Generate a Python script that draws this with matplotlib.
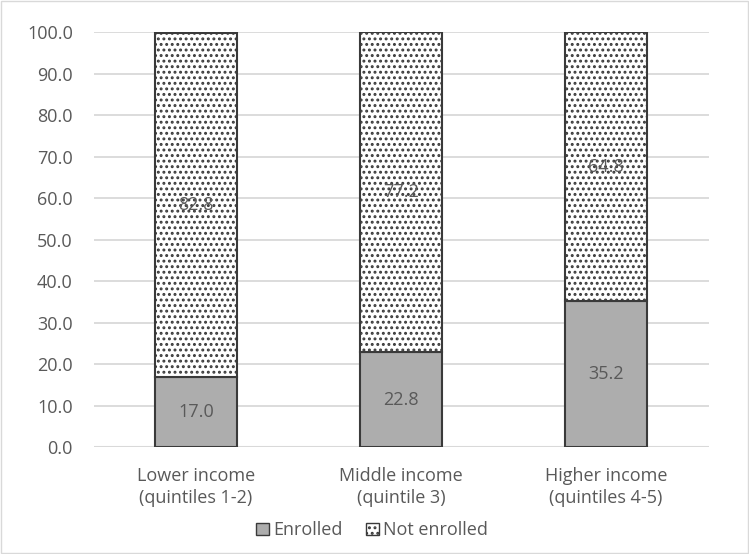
import matplotlib
matplotlib.use("Agg")
import matplotlib.pyplot as plt
from matplotlib.patches import Patch

plt.rcParams['font.family'] = ['Open Sans', 'DejaVu Sans']
plt.rcParams['hatch.linewidth'] = 1.35
plt.rcParams['hatch.color'] = '#000000'

categories = ["Lower income\n(quintiles 1-2)", "Middle income\n(quintile 3)", "Higher income\n(quintiles 4-5)"]
enrolled = [17.0, 22.8, 35.2]
not_enrolled = [82.8, 77.2, 64.8]
yticks = [0, 10, 20, 30, 40, 50, 60, 70, 80, 90, 100]

text_color = '#595959'
grid_color = '#D9D9D9'
edge_color = '#3a3a3a'
fill_enrolled = '#ADADAD'

fig = plt.figure(figsize=(7.49, 5.54), dpi=100)
fig.patch.set_facecolor('white')
fig.patches.append(plt.Rectangle((0.002, 0.002), 0.996, 0.996, transform=fig.transFigure,
                                 fill=False, edgecolor='#D9D9D9', linewidth=1.0))
ax = fig.add_axes([0.125, 0.193, 0.821, 0.749])

x = list(range(len(categories)))
width = 0.40
ax.bar(x, enrolled, width, color=fill_enrolled, edgecolor=edge_color, linewidth=1.5, zorder=3)
ax.bar(x, not_enrolled, width, bottom=enrolled, color='white', edgecolor=edge_color,
       linewidth=1.5, hatch='...', zorder=3)

for xi, e, n in zip(x, enrolled, not_enrolled):
    ax.text(xi, e / 2, f"{e:.1f}", ha='center', va='center', fontsize=13, color=text_color, zorder=4)
    ax.text(xi, e + n / 2, f"{n:.1f}", ha='center', va='center', fontsize=13, color=text_color, zorder=4)

ax.set_xlim(-0.5, 2.5)
ax.set_ylim(0, 100)
ax.set_yticks(yticks)
ax.set_yticklabels([f"{v:.1f}" for v in yticks])
ax.set_xticks(x)
ax.set_xticklabels(categories, linespacing=1.35)
ax.tick_params(axis='both', length=0, labelsize=13, labelcolor=text_color)
ax.tick_params(axis='y', pad=15)
ax.tick_params(axis='x', pad=14)
ax.yaxis.grid(True, color=grid_color, linewidth=1.3, zorder=0)
ax.set_axisbelow(True)
for s in ax.spines.values():
    s.set_visible(False)
ax.axhline(0, color=grid_color, linewidth=1.5, zorder=1)

handles = [Patch(facecolor=fill_enrolled, edgecolor=edge_color, linewidth=1.0, label='Enrolled'),
           Patch(facecolor='white', edgecolor=edge_color, linewidth=1.0, hatch='...', label='Not enrolled')]
fig.legend(handles=handles, loc='center', bbox_to_anchor=(0.497, 0.043), ncol=2, frameon=False,
           fontsize=13, labelcolor=text_color, handlelength=0.7, handleheight=0.7,
           handletextpad=0.25, columnspacing=1.3)

fig.savefig('out.png', dpi=100)
